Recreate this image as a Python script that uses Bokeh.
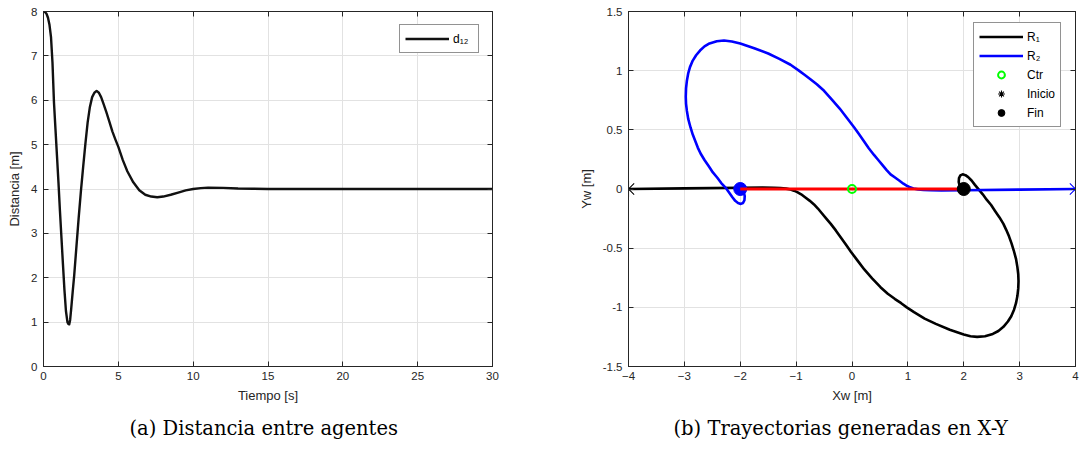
from bokeh.plotting import figure
from bokeh.layouts import row
from bokeh.models import (Range1d, FixedTicker, LinearAxis, Legend, LegendItem,
                          Title, CustomJSTickFormatter)
from bokeh.embed import file_html
from bokeh.resources import INLINE

# ---- (a) distance between the two agents ----
time_s = [0, 0.1, 0.2, 0.3, 0.4, 0.5, 0.6, 0.7, 0.8, 0.9, 1.0, 1.1, 1.2, 1.3,
          1.4, 1.5, 1.6, 1.66, 1.72, 1.78, 1.85, 1.95, 2.05, 2.2, 2.35, 2.5,
          2.65, 2.8, 2.95, 3.1, 3.25, 3.4, 3.55, 3.7, 3.85, 4.0, 4.2, 4.4, 4.6,
          4.8, 5.0, 5.3, 5.6, 6.0, 6.4, 6.8, 7.2, 7.6, 8.0, 8.5, 9.0, 9.5, 10.0,
          10.5, 11.0, 12.0, 13.0, 14.0, 15.0, 20.0, 25.0, 30.0]
dist_12 = [8.0, 7.99, 7.95, 7.86, 7.7, 7.43, 6.85, 5.95, 5.35, 4.75, 4.15, 3.5,
           2.9, 2.3, 1.72, 1.25, 1.0, 0.96, 0.95, 1.05, 1.3, 1.68, 2.05, 2.7,
           3.35, 3.95, 4.5, 5.02, 5.5, 5.85, 6.07, 6.17, 6.21, 6.17, 6.07, 5.93,
           5.73, 5.52, 5.3, 5.12, 4.95, 4.65, 4.4, 4.15, 3.97, 3.87, 3.83, 3.815,
           3.83, 3.87, 3.92, 3.97, 4.0, 4.02, 4.03, 4.025, 4.01, 4.005, 4.0, 4.0,
           4.0, 4.0]
time_ticks = [0, 5, 10, 15, 20, 25, 30]
dist_ticks = [0, 1, 2, 3, 4, 5, 6, 7, 8]

# ---- (b) X-Y trajectories of the two robots ----
r1_x = [-4.00, -3.00, -2.00, -1.60, -1.40, -1.28, -1.18, -1.10, -1.04, -0.98,
        -0.91, -0.84, -0.76, -0.68, -0.61, -0.54, -0.46, -0.38, -0.29, -0.20,
        -0.11, -0.02, 0.10, 0.22, 0.36, 0.51, 0.64, 0.77, 0.88, 0.98,
        1.11, 1.30, 1.50, 1.75, 2.00, 2.12, 2.24, 2.38, 2.52, 2.62,
        2.71, 2.79, 2.85, 2.90, 2.935, 2.96, 2.975, 2.98, 2.975, 2.96,
        2.935, 2.895, 2.855, 2.81, 2.76, 2.71, 2.64, 2.56, 2.49, 2.41,
        2.34, 2.27, 2.20, 2.14, 2.08, 2.03, 1.98, 1.94, 1.915, 1.91,
        1.925, 1.96, 2.00]
r1_y = [0.000, 0.005, 0.010, 0.012, 0.011, 0.008, 0.003, -0.005, -0.014, -0.026,
        -0.045, -0.07, -0.098, -0.13, -0.165, -0.205, -0.25, -0.295, -0.35, -0.41,
        -0.47, -0.53, -0.605, -0.68, -0.755, -0.83, -0.885, -0.93, -0.965, -1.00,
        -1.04, -1.095, -1.14, -1.19, -1.23, -1.245, -1.25, -1.245, -1.225, -1.20,
        -1.165, -1.12, -1.075, -1.02, -0.965, -0.905, -0.84, -0.78, -0.72, -0.66,
        -0.59, -0.52, -0.46, -0.40, -0.345, -0.295, -0.24, -0.185, -0.135, -0.09,
        -0.045, -0.005, 0.035, 0.072, 0.10, 0.117, 0.124, 0.115, 0.092, 0.06,
        0.03, 0.01, 0.000]
r2_x = [4.00, 3.00, 2.00, 1.60, 1.40, 1.28, 1.18, 1.10, 1.04, 0.99,
        0.92, 0.85, 0.77, 0.69, 0.62, 0.55, 0.47, 0.39, 0.30, 0.22,
        0.13, 0.04, -0.09, -0.22, -0.36, -0.50, -0.63, -0.75, -0.85, -0.95,
        -1.10, -1.30, -1.50, -1.75, -2.00, -2.15, -2.29, -2.42, -2.55, -2.64,
        -2.72, -2.79, -2.85, -2.90, -2.93, -2.955, -2.97, -2.975, -2.97, -2.955,
        -2.93, -2.89, -2.85, -2.80, -2.76, -2.71, -2.64, -2.56, -2.49, -2.41,
        -2.34, -2.26, -2.20, -2.14, -2.09, -2.04, -1.99, -1.95, -1.925, -1.92,
        -1.935, -1.965, -2.00]
r2_y = [0.000, -0.005, -0.010, -0.012, -0.011, -0.008, -0.003, 0.005, 0.014, 0.025,
        0.045, 0.07, 0.097, 0.124, 0.16, 0.20, 0.245, 0.29, 0.345, 0.40,
        0.46, 0.52, 0.60, 0.68, 0.755, 0.83, 0.885, 0.93, 0.965, 1.00,
        1.05, 1.10, 1.145, 1.19, 1.23, 1.247, 1.255, 1.248, 1.23, 1.205,
        1.17, 1.13, 1.085, 1.03, 0.98, 0.915, 0.85, 0.78, 0.72, 0.66,
        0.59, 0.52, 0.46, 0.40, 0.35, 0.30, 0.245, 0.19, 0.14, 0.095,
        0.05, 0.01, -0.03, -0.07, -0.10, -0.118, -0.126, -0.118, -0.095, -0.06,
        -0.03, -0.01, 0.000]
centre_x = [0.0]
centre_y = [0.0]
xw_ticks = [-4, -3, -2, -1, 0, 1, 2, 3, 4]
yw_ticks = [-1.5, -1, -0.5, 0, 0.5, 1, 1.5]

INK = "#262626"
GRID = "#e2e2e2"
SANS = "Liberation Sans"
SERIF = "DejaVu Serif"


def style_axes(p, xticks, yticks, formatter=None):
    p.xaxis.ticker = FixedTicker(ticks=xticks)
    p.yaxis.ticker = FixedTicker(ticks=yticks)
    if formatter is not None:
        p.yaxis.formatter = formatter
    # mirrored box axes: inward ticks only, labels formatted away
    blank = CustomJSTickFormatter(code="return '';")
    p.add_layout(LinearAxis(ticker=FixedTicker(ticks=xticks), formatter=blank), "above")
    p.add_layout(LinearAxis(ticker=FixedTicker(ticks=yticks), formatter=blank), "right")
    for ax in p.axis:
        ax.axis_line_color = INK
        ax.major_tick_line_color = INK
        ax.major_tick_in = 5
        ax.major_tick_out = 0
        ax.minor_tick_line_color = None
        ax.major_label_text_font = SANS
        ax.major_label_text_font_size = "11.5px"
        ax.major_label_text_color = INK
        ax.axis_label_text_font = SANS
        ax.axis_label_text_font_size = "13px"
        ax.axis_label_text_font_style = "normal"
        ax.axis_label_text_color = INK
    for ax in p.above + p.right:
        if isinstance(ax, LinearAxis):
            ax.major_label_standoff = 0
    p.xaxis[0].major_label_standoff = 5
    p.yaxis[0].major_label_standoff = 6
    p.xaxis[0].axis_label_standoff = 12
    p.yaxis[0].axis_label_standoff = 6
    p.grid.grid_line_color = GRID
    p.outline_line_color = INK
    p.background_fill_color = "white"
    p.border_fill_color = "white"


def style_legend(lg):
    lg.border_line_color = INK
    lg.border_line_width = 1
    lg.background_fill_color = "white"
    lg.background_fill_alpha = 1.0
    lg.label_text_font = SANS
    lg.label_text_font_size = "12px"
    lg.label_text_color = "black"
    lg.glyph_width = 44
    lg.glyph_height = 17
    lg.label_height = 17
    lg.label_standoff = 4
    lg.padding = 5
    lg.spacing = 2


def caption(text, indent):
    return Title(text=text, align="left", offset=indent, standoff=19,
                 text_font=SERIF, text_font_size="19.5px",
                 text_font_style="normal", text_color="black")


# ---- left panel ----
p1 = figure(width=560, height=452, x_range=Range1d(0, 30), y_range=Range1d(0, 8),
            output_backend="svg", toolbar_location=None,
            min_border_left=43, min_border_right=68, min_border_top=11,
            min_border_bottom=86, x_axis_label="Tiempo [s]",
            y_axis_label="Distancia [m]")
style_axes(p1, time_ticks, dist_ticks)
d_line = p1.line(time_s, dist_12, line_color="#111111", line_width=2.4,
                 line_join="round")
leg1 = Legend(items=[LegendItem(label="d\u2081\u2082", renderers=[d_line])],
              location="top_right", margin=13)
style_legend(leg1)
p1.add_layout(leg1)
p1.add_layout(caption("(a) Distancia entre agentes", 86), "below")

# ---- right panel ----
p2 = figure(width=523, height=452, x_range=Range1d(-4, 4), y_range=Range1d(-1.5, 1.5),
            output_backend="svg", toolbar_location=None,
            min_border_left=68, min_border_right=8, min_border_top=11,
            min_border_bottom=86, x_axis_label="Xw [m]", y_axis_label="Yw [m]")
style_axes(p2, xw_ticks, yw_ticks,
           formatter=CustomJSTickFormatter(code="return String(tick);"))

r1 = p2.line(r1_x, r1_y, line_color="black", line_width=2.6, line_join="round")
r2 = p2.line(r2_x, r2_y, line_color="#0000ff", line_width=2.6, line_join="round")
start1 = p2.scatter([r1_x[0]], [r1_y[0]], marker="asterisk", size=16,
                    line_color="black", line_width=1.1)
p2.scatter([r2_x[0]], [r2_y[0]], marker="asterisk", size=16,
           line_color="#0000ff", line_width=1.1)
p2.scatter([r2_x[-1]], [r2_y[-1]], marker="circle", size=13,
           fill_color="#0000ff", line_color="#0000ff")
p2.line([r2_x[-1], r1_x[-1]], [r2_y[-1], r1_y[-1]], line_color="#ff0000",
        line_width=3)
end1 = p2.scatter([r1_x[-1]], [r1_y[-1]], marker="circle", size=13,
                  fill_color="black", line_color="black")
ctr = p2.scatter(centre_x, centre_y, marker="circle", size=8, fill_color=None,
                 line_color="#00ff00", line_width=2)

leg2 = Legend(items=[
    LegendItem(label="R\u2081", renderers=[r1]),
    LegendItem(label="R\u2082", renderers=[r2]),
    LegendItem(label="Ctr", renderers=[ctr]),
    LegendItem(label="Inicio", renderers=[start1]),
    LegendItem(label="Fin", renderers=[end1]),
], location=(345, 239))
style_legend(leg2)
p2.add_layout(leg2)
p2.add_layout(caption("(b) Trayectorias generadas en X-Y", 45), "below")

layout = row(p1, p2)
open("out.html", "w").write(file_html(layout, INLINE))
